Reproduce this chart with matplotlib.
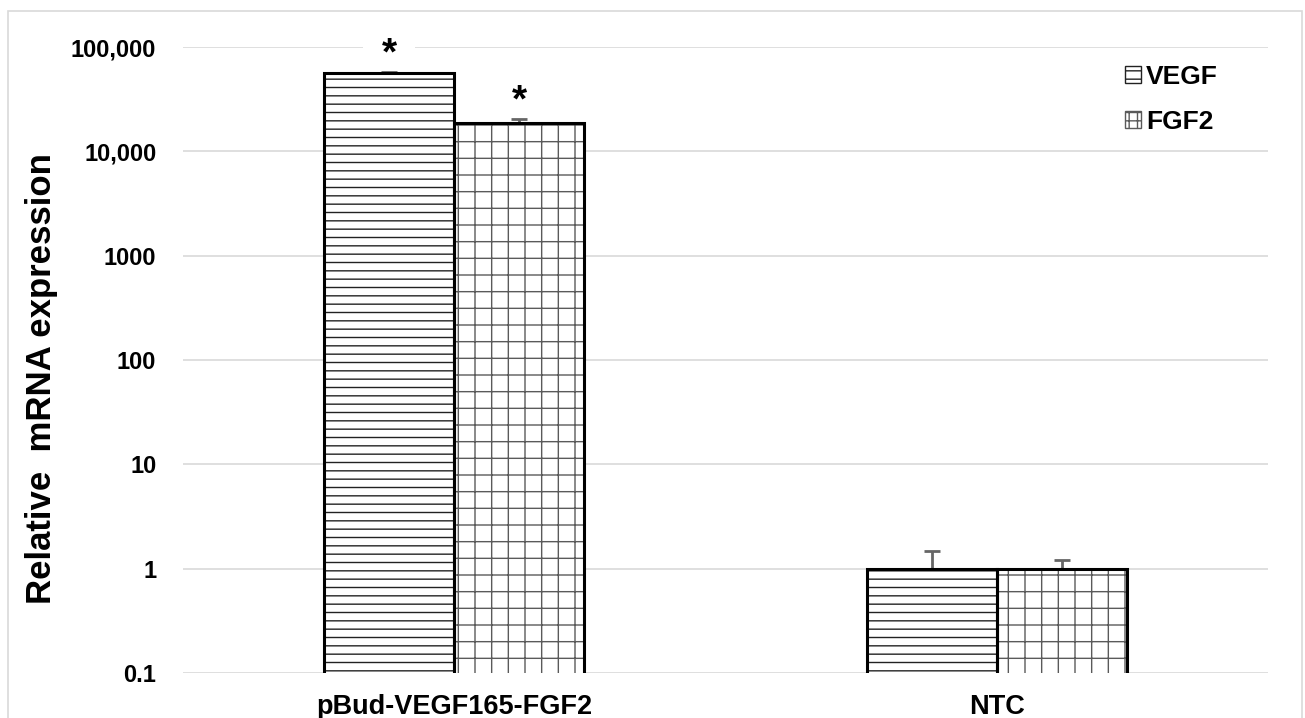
import matplotlib.pyplot as plt
import matplotlib.patches as mpatches
import numpy as np

plt.rcParams['font.family'] = ['Liberation Sans', 'DejaVu Sans']
plt.rcParams['font.weight'] = 'bold'
plt.rcParams['hatch.linewidth'] = 1.0

groups = ["pBud-VEGF165-FGF2", "NTC"]
vegf = [56000, 1.0]
vegf_err = [2000, 0.47]
fgf2 = [18700, 1.0]
fgf2_err = [1500, 0.21]
yticks = [0.1, 1, 10, 100, 1000, 10000, 100000]
ytick_labels = ["0.1", "1", "10", "100", "1000", "10,000", "100,000"]

fig = plt.figure(figsize=(13.05, 7.18), dpi=100)
ax = fig.add_axes([0.140, 0.0627, 0.832, 0.8718])

x = np.arange(len(groups))
w = 0.24

# hatch fills, then black outlines on top
ax.bar(x - w/2, vegf, w, color='white', edgecolor='#222222',
       hatch='--', linewidth=0, zorder=2)
ax.bar(x + w/2, fgf2, w, color='white', edgecolor='#5a5a5a',
       hatch='+', linewidth=0, zorder=2)

ax.errorbar(x - w/2, vegf, yerr=[np.zeros(2), vegf_err], fmt='none',
            ecolor='#666666', elinewidth=2, capsize=6, capthick=2, zorder=2.5)
ax.errorbar(x + w/2, fgf2, yerr=[np.zeros(2), fgf2_err], fmt='none',
            ecolor='#666666', elinewidth=2, capsize=6, capthick=2, zorder=2.5)

ax.bar(x - w/2, vegf, w, fill=False, edgecolor='black', linewidth=2.2, zorder=3)
ax.bar(x + w/2, fgf2, w, fill=False, edgecolor='black', linewidth=2.2, zorder=3)

# significance marks over the pBud group (gridline is broken behind the first one)
ax.hlines(yticks[-1], x[0] - w/2 - 0.047, x[0] - w/2 + 0.047, color='white',
          linewidth=4, zorder=1)
ax.text(x[0] - w/2, vegf[0] * 1.5, "*", ha='center', va='center',
        fontsize=28, fontweight='bold', zorder=5)
ax.text(x[0] + w/2, fgf2[0] * 1.62, "*", ha='center', va='center',
        fontsize=28, fontweight='bold', zorder=5)

ax.set_yscale('log')
ax.set_ylim(0.1, 100000)
ax.set_xlim(-0.5, 1.5)
ax.set_yticks(yticks)
ax.set_yticklabels(ytick_labels)
ax.minorticks_off()
ax.set_xticks(x)
ax.set_xticklabels(groups, fontsize=19.5)
ax.tick_params(axis='y', length=0, labelsize=17, pad=19)
ax.tick_params(axis='x', length=0, pad=15)
ax.grid(axis='y', color='#d9d9d9', linewidth=1.2, zorder=0)
ax.set_axisbelow(True)
for s in ax.spines.values():
    s.set_visible(False)
ax.set_ylabel("Relative  mRNA expression", fontsize=25, fontweight='bold')
ax.yaxis.set_label_coords(-0.115, 0.471)

h1 = mpatches.Patch(facecolor='white', edgecolor='#222222', hatch='--', label='VEGF')
h2 = mpatches.Patch(facecolor='white', edgecolor='#5a5a5a', hatch='++', label='FGF2')
ax.legend(handles=[h1, h2], loc='upper left', bbox_to_anchor=(0.862, 0.91),
          bbox_transform=fig.transFigure, frameon=False, fontsize=19,
          handlelength=0.6, handleheight=0.6, handletextpad=0.2,
          labelspacing=0.8, borderpad=0, borderaxespad=0)

# outer chart border
fig.patches.append(mpatches.Rectangle((0.006, -0.01), 0.992, 0.995,
                                      transform=fig.transFigure, fill=False,
                                      edgecolor='#d9d9d9', linewidth=1.2))

fig.savefig("out.png", dpi=100)
